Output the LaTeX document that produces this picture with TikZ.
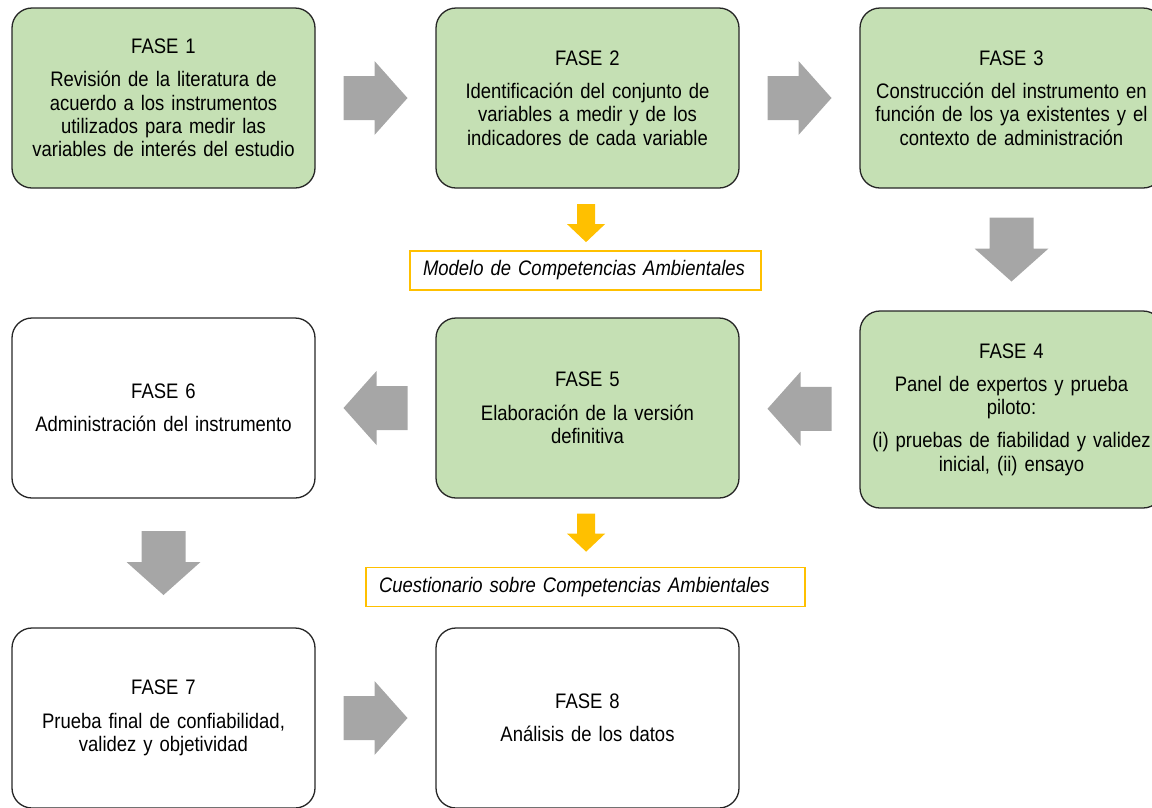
\documentclass[tikz,border=0pt]{standalone}
\usepackage{fontspec}
\setmainfont{Liberation Sans}[FakeStretch=0.88]
\definecolor{fasegreen}{HTML}{C5E0B4}
\definecolor{arrowgrey}{HTML}{A6A6A6}
\definecolor{notegold}{HTML}{FFC000}
\tikzset{
  fase/.style={draw=black!85,line width=1.3pt,rounded corners=20pt,minimum width=303pt,minimum height=180pt,
    inner sep=4pt,text width=295pt,align=center,font=\fontsize{21}{23.3}\selectfont},
  greenfase/.style={fase,fill=fasegreen},
  nota/.style={draw=notegold,line width=1.6pt,minimum height=39pt,inner xsep=13pt,align=left,
    font=\fontsize{21}{23.3}\selectfont\itshape},
  pics/greyarrow/.style={code={\fill[arrowgrey](-32,-22)--(-1,-22)--(-1,-37)--(32,0)--(-1,37)--(-1,22)--(-32,22)--cycle;}},
  pics/goldarrow/.style={code={\fill[notegold](-19,-9)--(1,-9)--(1,-19)--(19,0)--(1,19)--(1,9)--(-19,9)--cycle;}}
}
\begin{document}
\begin{tikzpicture}[x=1pt,y=1pt]
\pgfmathsetmacro{\kxstep}{424}
\pgfmathsetmacro{\kystep}{310}
\useasboundingbox (0,0) rectangle (1152,-807);
\clip (0,0) rectangle (1152,-807);
\node[greenfase] (f1) at (163.5,-98) {FASE 1\\[10pt]Revisión de la literatura de\\acuerdo a los instrumentos\\utilizados para medir las\\variables de interés del estudio};
\node[greenfase] (f2) at (163.5+\kxstep,-98) {FASE 2\\[10pt]Identificación del conjunto de\\variables a medir y de los\\indicadores de cada variable};
\node[greenfase] (f3) at (163.5+2*\kxstep,-98) {FASE 3\\[10pt]Construcción del instrumento en\\función de los ya existentes y el\\contexto de administración};
\node[greenfase,minimum height=197pt] (f4) at (163.5+2*\kxstep,-409.5) {FASE 4\\[10pt]Panel de expertos y prueba\\piloto:\\[10pt](i) pruebas de fiabilidad y validez\\inicial, (ii) ensayo};
\node[greenfase] (f5) at (163.5+\kxstep,-98-\kystep) {FASE 5\\[10pt]Elaboración de la versión\\definitiva};
\node[fase] (f6) at (163.5,-98-\kystep) {FASE 6\\[10pt]Administración del instrumento};
\node[fase] (f7) at (163.5,-98-2*\kystep) {FASE 7\\[10pt]Prueba final de confiabilidad,\\validez y objetividad};
\node[fase] (f8) at (163.5+\kxstep,-98-2*\kystep) {FASE 8\\[10pt]Análisis de los datos};
\node[nota,text width=325pt] (modelo) at (585.5,-270.5) {Modelo de Competencias Ambientales};
\node[nota,text width=413pt] (cuestionario) at (585.5,-587) {Cuestionario sobre Competencias Ambientales};
\foreach \ka/\kb/\krot in {f1/f2/0,f2/f3/0,f3/f4/-90,f4/f5/180,f5/f6/180,f6/f7/-90,f7/f8/0}{
  \path (\ka)--(\kb) coordinate[midway](m\ka);
  \pic[rotate=\krot] at (m\ka) {greyarrow};
}
\foreach \ka/\kb/\kpos in {f2/modelo/0.56,f5/cuestionario/0.5}{
  \path (\ka)--(\kb) coordinate[pos=\kpos](n\ka);
  \pic[rotate=-90] at (n\ka) {goldarrow};
}
\end{tikzpicture}
\end{document}
